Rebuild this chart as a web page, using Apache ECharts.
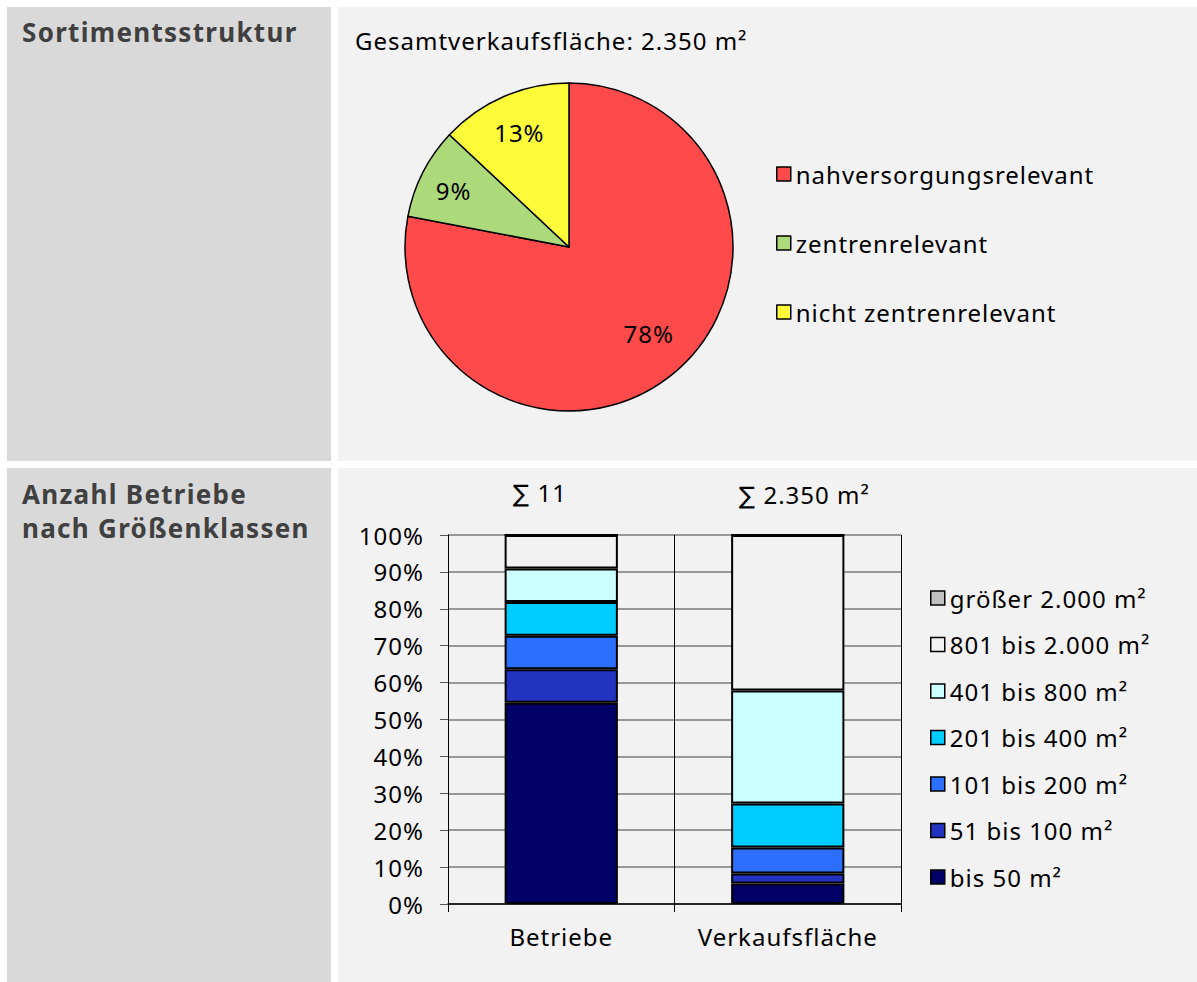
<!DOCTYPE html>
<html>
<head>
<meta charset="utf-8">
<script src="https://cdn.jsdelivr.net/npm/echarts@6/dist/echarts.min.js"></script>
<style>
  html, body { margin: 0; padding: 0; background: #ffffff; }
  #chart { width: 1197px; height: 982px; }
  #chart text { letter-spacing: 1px; }
  #chart text[style*="bold"] { letter-spacing: 1.3px; }
</style>
</head>
<body>
<div id="chart"></div>
<script>
// Sortimentsstruktur (shares of sales area, %)
const sortimentNames = ['nahversorgungsrelevant', 'zentrenrelevant', 'nicht zentrenrelevant'];
const sortimentShares = [78, 9, 13];
const sortimentColors = ['#fe4a4a', '#acd97a', '#fdfb3a'];

// Betriebe nach Größenklassen
const sizeClasses = ['bis 50 m²', '51 bis 100 m²', '101 bis 200 m²', '201 bis 400 m²',
                     '401 bis 800 m²', '801 bis 2.000 m²', 'größer 2.000 m²'];
const sizeColors = ['#000066', '#2233c0', '#2c6ffc', '#00ccff', '#ccffff', '#f2f2f2', '#c0c0c0'];
const barCategories = ['Betriebe', 'Verkaufsfläche'];
const betriebeCount = [6, 1, 1, 1, 1, 1, 0];          // number of businesses
const flaecheQm = [130, 65, 165, 280, 720, 990, 0];   // sales area in m²

const FONT = '"Noto Sans", "DejaVu Sans", sans-serif';

const sum = a => a.reduce((s, v) => s + v, 0);
const fmtDe = n => String(n).replace(/\B(?=(\d{3})+(?!\d))/g, '.');

const totalBetriebe = sum(betriebeCount);
const totalFlaeche = sum(flaecheQm);

const chart = echarts.init(document.getElementById('chart'), null, { renderer: 'svg' });

const panel = (x, y, w, h, fill) => ({
  type: 'rect', silent: true, z: -10,
  shape: { x, y, width: w, height: h },
  style: { fill }
});
const txt = (x, y, text, opts = {}) => ({
  type: 'text', silent: true, x, y,
  style: Object.assign({
    text, fontFamily: FONT, fontSize: 24, fill: '#000',
    align: 'left', verticalAlign: 'middle'
  }, opts)
});
const heading = (x, y, text) =>
  txt(x, y, text, { fontSize: 26, fontWeight: 'bold', fill: '#404040' });

const barSeries = sizeClasses.map((name, i) => ({
  name,
  type: 'bar',
  stack: 'total',
  barWidth: '50%',
  itemStyle: { color: sizeColors[i], borderColor: '#000', borderWidth: 2 },
  emphasis: { disabled: true },
  data: [
    betriebeCount[i] / totalBetriebe * 100,
    flaecheQm[i] / totalFlaeche * 100
  ]
}));

const legendText = { fontFamily: FONT, fontSize: 24, color: '#000', lineHeight: 24 };

chart.setOption({
  animation: false,
  graphic: [
    panel(7, 7, 324, 454, '#d9d9d9'),
    panel(338, 7, 859, 454, '#f2f2f2'),
    panel(7, 468, 324, 514, '#d9d9d9'),
    panel(338, 468, 859, 514, '#f2f2f2'),
    heading(22, 32, 'Sortimentsstruktur'),
    heading(22, 494, 'Anzahl Betriebe'),
    heading(22, 528, 'nach Größenklassen'),
    txt(355, 40, 'Gesamtverkaufsfläche: ' + fmtDe(totalFlaeche) + ' m²'),
    txt(513, 492, '∑ ' + totalBetriebe),
    txt(739, 494, '∑ ' + fmtDe(totalFlaeche) + ' m²')
  ],
  legend: [
    {
      data: sortimentNames,
      orient: 'vertical',
      left: 776, top: 162,
      padding: 0,
      itemWidth: 14, itemHeight: 14,
      itemGap: 45,
      icon: 'rect',
      itemStyle: { borderColor: '#000', borderWidth: 1.5 },
      textStyle: legendText,
      selectedMode: false
    },
    {
      data: sizeClasses.slice().reverse(),
      orient: 'vertical',
      left: 930, top: 586,
      padding: 0,
      itemWidth: 14, itemHeight: 14,
      itemGap: 22.5,
      icon: 'rect',
      itemStyle: { borderColor: '#000', borderWidth: 1.5 },
      textStyle: legendText,
      selectedMode: false
    }
  ],
  grid: { left: 448, top: 535, width: 453, height: 369, containLabel: false },
  xAxis: {
    type: 'category',
    data: barCategories,
    axisLine: { lineStyle: { color: '#000', width: 1.5 } },
    axisTick: { show: true, length: 8, lineStyle: { color: '#000' } },
    splitLine: { show: true, lineStyle: { color: '#000', width: 1 } },
    axisLabel: { fontFamily: FONT, fontSize: 24, color: '#000', margin: 20 }
  },
  yAxis: {
    type: 'value',
    min: 0, max: 100, interval: 10,
    axisLine: { show: true, lineStyle: { color: '#000', width: 1 } },
    axisTick: { show: true, length: 8, lineStyle: { color: '#555' } },
    splitLine: { show: true, lineStyle: { color: '#7a7a7a', width: 1.5 } },
    axisLabel: { formatter: '{value}%', fontFamily: FONT, fontSize: 24, color: '#000', margin: 24 }
  },
  series: [
    {
      type: 'pie',
      center: [569, 247],
      radius: [0, 164],
      startAngle: 90,
      clockwise: true,
      label: { show: false },
      labelLine: { show: false },
      emphasis: { disabled: true },
      itemStyle: { borderColor: '#000', borderWidth: 1.5 },
      data: sortimentNames.map((n, i) => ({
        name: n, value: sortimentShares[i], itemStyle: { color: sortimentColors[i] }
      }))
    },
    {
      // transparent ring that only carries the percentage labels at ~3/4 radius
      type: 'pie',
      center: [569, 247],
      radius: [80, 164],
      startAngle: 90,
      clockwise: true,
      silent: true,
      z: 5,
      emphasis: { disabled: true },
      itemStyle: { color: 'rgba(0,0,0,0)', borderWidth: 0 },
      label: {
        show: true, position: 'inside',
        formatter: '{c}%',
        fontFamily: FONT, fontSize: 24, color: '#000'
      },
      labelLine: { show: false },
      data: sortimentNames.map((n, i) => ({
        name: n, value: sortimentShares[i],
        // the large slice carries its label a little further inward
        label: i === 0 ? { offset: [0, -10] } : (i === 1 ? { offset: [-4, 0] } : {})
      }))
    },
    ...barSeries
  ]
});
</script>
</body>
</html>
